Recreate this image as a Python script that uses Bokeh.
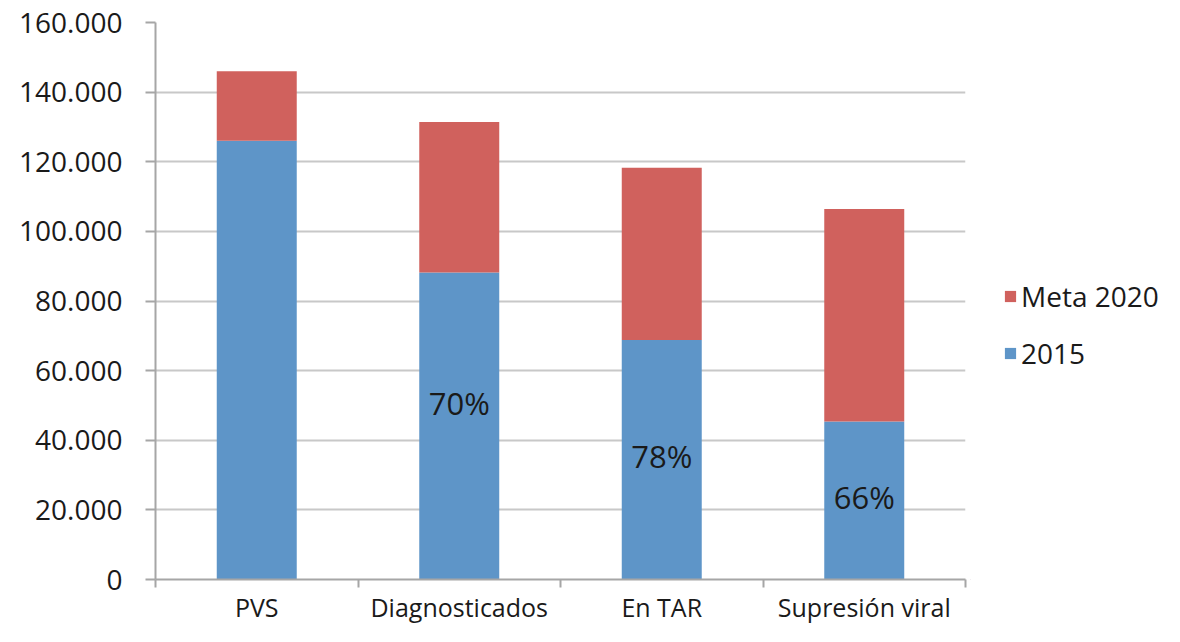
from bokeh.plotting import figure
from bokeh.models import (ColumnDataSource, Range1d, FixedTicker, Legend, LegendItem)
from bokeh.layouts import row
from bokeh.core.properties import value
from bokeh.embed import file_html
from bokeh.resources import INLINE

categories = ["PVS", "Diagnosticados", "En TAR", "Supresión viral"]
values_2015 = [126000, 88200, 68800, 45400]
values_meta_2020 = [20000, 43200, 49500, 61000]
series_names = ["Meta 2020", "2015"]
pct_labels = ["", "70%", "78%", "66%"]
pct_label_y = [0, 50800, 35400, 23800]
y_ticks = [0, 20000, 40000, 60000, 80000, 100000, 120000, 140000, 160000]
y_tick_labels = ["0", "20.000", "40.000", "60.000", "80.000", "100.000", "120.000", "140.000", "160.000"]

BLUE = "#5E95C8"
RED = "#D0615D"
FONT = "Open Sans"
TXT = "#1a1a1a"

W, H = 1164, 626
WM = 970
p = figure(width=WM, height=H, output_backend="svg", toolbar_location=None,
           x_range=Range1d(0, len(categories)), y_range=Range1d(0, 160000),
           min_border_left=155, min_border_right=5, min_border_top=22, min_border_bottom=40)
p.outline_line_color = None
p.background_fill_color = "white"

xc = [i + 0.5 for i in range(len(categories))]
tops = [a + b for a, b in zip(values_2015, values_meta_2020)]
src = ColumnDataSource(dict(x=xc, v2015=values_2015, top=tops, lab=pct_labels, ly=pct_label_y))

r_blue = p.vbar(x="x", bottom=0, top="v2015", width=0.395, source=src,
                fill_color=BLUE, line_color=None)
r_red = p.vbar(x="x", bottom="v2015", top="top", width=0.395, source=src,
               fill_color=RED, line_color=None)

p.text(x="x", y="ly", text="lab", source=src, text_align="center", text_baseline="middle",
       text_font=value(FONT), text_font_size="31px", text_color=TXT)

# x axis
p.xaxis.ticker = FixedTicker(ticks=xc, minor_ticks=list(range(len(categories) + 1)))
p.xaxis.major_label_overrides = {x: c for x, c in zip(xc, categories)}
p.xaxis.major_tick_out = 0
p.xaxis.major_tick_in = 0
p.xaxis.minor_tick_out = 8
p.xaxis.minor_tick_in = 0
p.xaxis.minor_tick_line_color = "#a6a6a6"
p.xaxis.minor_tick_line_width = 2
p.xaxis.axis_line_color = "#a6a6a6"
p.xaxis.axis_line_width = 2
p.xaxis.major_label_text_font = FONT
p.xaxis.major_label_text_font_size = "25px"
p.xaxis.major_label_text_color = TXT
p.xaxis.major_label_standoff = 2

# y axis
p.yaxis.ticker = FixedTicker(ticks=y_ticks, minor_ticks=[])
p.yaxis.major_label_overrides = {t: l for t, l in zip(y_ticks, y_tick_labels)}
p.yaxis.major_tick_out = 10
p.yaxis.major_tick_in = 0
p.yaxis.major_tick_line_color = "#a6a6a6"
p.yaxis.major_tick_line_width = 2
p.yaxis.axis_line_color = "#a6a6a6"
p.yaxis.axis_line_width = 2
p.yaxis.major_label_text_font = FONT
p.yaxis.major_label_text_font_size = "28px"
p.yaxis.major_label_text_color = TXT
p.yaxis.major_label_standoff = 23

p.xgrid.grid_line_color = None
p.ygrid.grid_line_color = "#c8c8c8"
p.ygrid.grid_line_width = 2
p.ygrid.level = "underlay"

# legend panel as a separate figure (swatches use off-screen proxy glyphs)
lg = figure(width=W - WM, height=H, output_backend="svg", toolbar_location=None,
            x_axis_type=None, y_axis_type=None, x_range=Range1d(0, 1), y_range=Range1d(0, 1),
            min_border=0)
lg.outline_line_color = None
lg.xgrid.grid_line_color = None
lg.ygrid.grid_line_color = None
proxy = ColumnDataSource(dict(x=[-10], top=[-10]))
d_red = lg.vbar(x="x", top="top", bottom=-11, width=1, source=proxy, fill_color=RED, line_color=None)
d_blue = lg.vbar(x="x", top="top", bottom=-11, width=1, source=proxy, fill_color=BLUE, line_color=None)

legend = Legend(items=[LegendItem(label=series_names[0], renderers=[d_red]),
                       LegendItem(label=series_names[1], renderers=[d_blue])],
                location=(33, 207), orientation="vertical")
legend.border_line_color = None
legend.background_fill_alpha = 0
legend.glyph_width = 14
legend.glyph_height = 14
legend.label_text_font = FONT
legend.label_text_font_size = "28px"
legend.label_text_color = TXT
legend.label_standoff = 4
legend.spacing = 19
legend.padding = 0
legend.margin = 0
lg.add_layout(legend, "center")

layout = row(p, lg, spacing=0)
open("out.html", "w").write(file_html(layout, INLINE))
